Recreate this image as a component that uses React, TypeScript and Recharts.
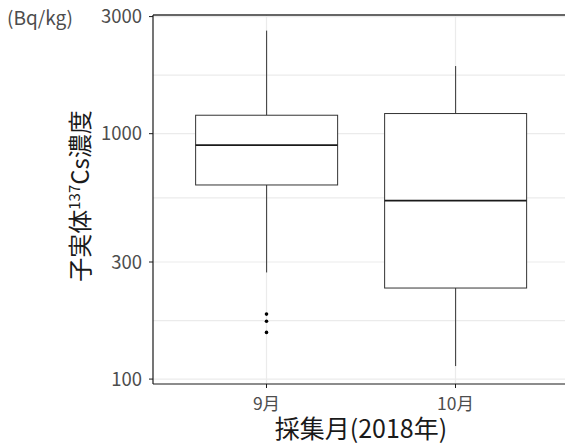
import React from "react";
import {
  Bar,
  CartesianGrid,
  ComposedChart,
  Label,
  ReferenceLine,
  Scatter,
  XAxis,
  YAxis,
} from "recharts";

const FONT = "'Noto Sans CJK JP', 'Noto Sans', sans-serif";

// values (Bq/kg)
const months = ["9月", "10月"];
const whiskerLow = [272, 113];
const q1 = [618, 235];
const median = [899, 534];
const q3 = [1189, 1208];
const whiskerHigh = [2630, 1886];
const outliers = [[184, 172, 155], []];

const yTicks = [100, 300, 1000, 3000];
const gridValues = [100, 173, 300, 548, 1000, 1732, 3000];
const yDomain = [95.5, 3045];

const data = months.map((month, i) => ({
  month,
  low: whiskerLow[i],
  q1: q1[i],
  median: median[i],
  q3: q3[i],
  high: whiskerHigh[i],
  out1: outliers[i][0] ?? null,
  out2: outliers[i][1] ?? null,
  out3: outliers[i][2] ?? null,
}));

function BoxShape(props: any) {
  const { x, y, width, height, payload } = props;
  const top = Math.min(y, y + height);
  const h = Math.abs(height);
  const hi = Math.log10(payload.high);
  const lo = Math.log10(payload.low);
  const toY = (v: number) => top + (h * (hi - Math.log10(v))) / (hi - lo);
  const cx = x + width / 2;
  const yQ3 = toY(payload.q3);
  const yQ1 = toY(payload.q1);
  const yMed = toY(payload.median);
  return (
    <g>
      <line x1={cx} x2={cx} y1={top} y2={yQ3} stroke="#333" strokeWidth={1} />
      <line x1={cx} x2={cx} y1={yQ1} y2={top + h} stroke="#333" strokeWidth={1} />
      <rect x={x} y={yQ3} width={width} height={yQ1 - yQ3} fill="#fff" stroke="#333" strokeWidth={1} />
      <line x1={x} x2={x + width} y1={yMed} y2={yMed} stroke="#1a1a1a" strokeWidth={1.7} />
    </g>
  );
}

const Dot = (props: any) =>
  props.cy == null ? null : <circle cx={props.cx} cy={props.cy} r={1.8} fill="#000" />;

const YTitle = () => (
  <g fontFamily={FONT}>
    <text x={7} y={24.5} fontSize={19} fill="#4d4d4d">
      (Bq/kg)
    </text>
    <text transform="translate(89,196) rotate(-90)" textAnchor="middle" fontSize={24} fill="#1a1a1a">
      子実体
      <tspan fontSize={15} dy={-9}>137</tspan>
      <tspan dy={9}>Cs濃度</tspan>
    </text>
  </g>
);

const XTitle = (props: any) => {
  const vb = props.viewBox || { x: 153, width: 416 };
  return (
    <text x={vb.x + vb.width / 2} y={438} textAnchor="middle" fontSize={25} fontFamily={FONT} fill="#1a1a1a">
      採集月(2018年)
    </text>
  );
};

export default function App() {
  return (
    <div style={{ position: "fixed", left: 0, top: 0, width: 565, height: 444, overflow: "hidden", background: "#fff" }}>
      <ComposedChart
        width={565}
        height={444}
        data={data}
        margin={{ top: 15, right: -4, left: 0, bottom: 0 }}
        barCategoryGap="12.5%"
      >
        <CartesianGrid stroke="#ebebeb" strokeWidth={1.2} horizontalValues={gridValues} verticalValues={months} />
        <XAxis
          dataKey="month"
          height={60}
          padding={{ left: 19, right: 19 }}
          tickSize={4}
          tickMargin={10}
          tick={{ fill: "#4d4d4d", fontSize: 17.5, fontFamily: FONT }}
          tickLine={{ stroke: "#1a1a1a" }}
          axisLine={{ stroke: "#1a1a1a", strokeWidth: 1.2 }}
        >
          <Label content={XTitle} />
        </XAxis>
        <YAxis
          scale="log"
          domain={yDomain}
          allowDataOverflow
          ticks={yTicks}
          interval={0}
          width={153}
          tickSize={4}
          tickMargin={7}
          tick={{ fill: "#4d4d4d", fontSize: 18.5, fontFamily: FONT }}
          tickLine={{ stroke: "#1a1a1a" }}
          axisLine={{ stroke: "#1a1a1a", strokeWidth: 1.2 }}
        >
          <Label content={YTitle} />
        </YAxis>
        <ReferenceLine y={yDomain[1]} stroke="#333" strokeWidth={1.4} ifOverflow="visible" />
        <Bar
          dataKey={(d: any) => [d.low, d.high]}
          shape={BoxShape}
          isAnimationActive={false}
        />
        <Scatter dataKey="out1" shape={Dot} isAnimationActive={false} />
        <Scatter dataKey="out2" shape={Dot} isAnimationActive={false} />
        <Scatter dataKey="out3" shape={Dot} isAnimationActive={false} />
      </ComposedChart>
    </div>
  );
}
